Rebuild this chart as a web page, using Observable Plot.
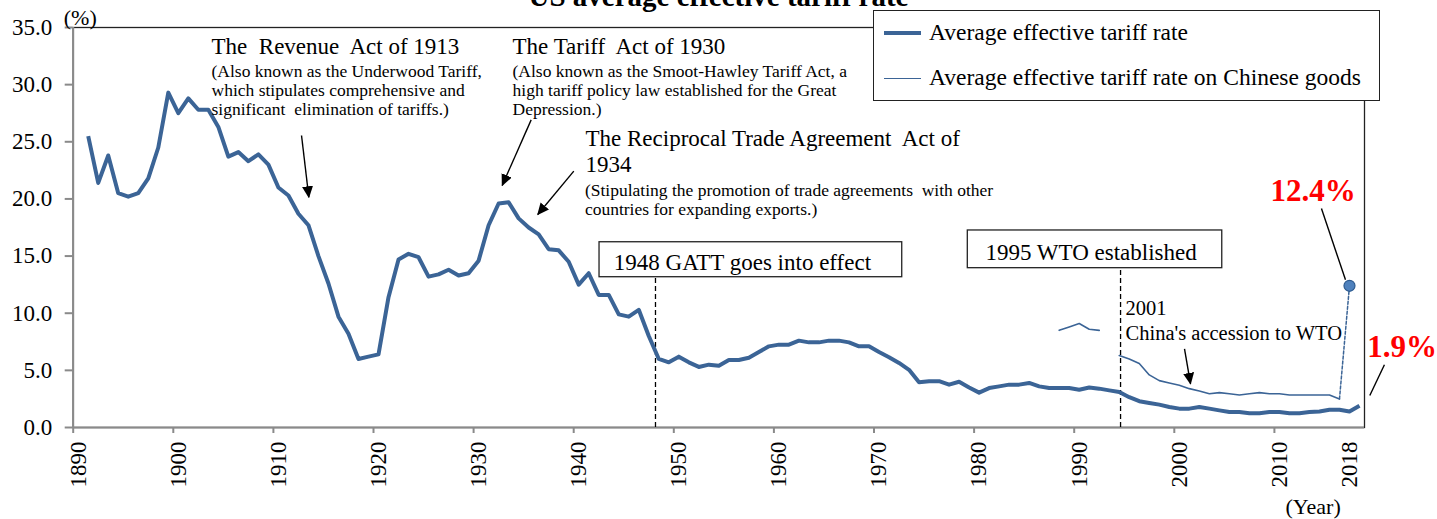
<!DOCTYPE html>
<html>
<head>
<meta charset="utf-8">
<script src="https://cdn.jsdelivr.net/npm/d3@7"></script>
<script src="https://cdn.jsdelivr.net/npm/@observablehq/plot@0.6"></script>
<style>
  html, body { margin: 0; padding: 0; background: #fff; overflow: hidden; }
  #wrap { position: relative; width: 1437px; height: 519px; font-family: "Liberation Serif", "Times New Roman", serif; color: #000; }
  #chart { position: absolute; left: 0; top: 0; }
  #title { position: absolute; left: 0; top: -18px; width: 1437px; text-align: center; font-weight: bold; font-size: 29px; line-height: 29px; }
  #legend { position: absolute; left: 873px; top: 10px; width: 505px; height: 89px; border: 1.5px solid #222; background: #fff; }
  #legend .sw { position: absolute; left: 10px; width: 37px; background: #3b6496; }
  #legend .lt { position: absolute; left: 55px; font-size: 23.5px; line-height: 23.5px; white-space: nowrap; }
</style>
</head>
<body>
<div id="wrap">
  <div id="chart"></div>
  <div id="title">US average effective tariff rate</div>
  <div id="legend"></div>
</div>
<script>
// ---------- data ----------
const mainStartYear = 1891;
const mainValues = [
  25.5, 21.4, 23.8, 20.5, 20.2, 20.5, 21.8, 24.5, 29.3, 27.5,   // 1891-1900
  28.8, 27.8, 27.8, 26.3, 23.7, 24.1, 23.3, 23.9, 23.0, 21.0,   // 1901-1910
  20.3, 18.7, 17.7, 15.0, 12.6, 9.7, 8.2, 6.0, 6.2, 6.4,        // 1911-1920
  11.4, 14.7, 15.2, 14.9, 13.2, 13.4, 13.8, 13.3, 13.5, 14.6,   // 1921-1930
  17.7, 19.6, 19.7, 18.3, 17.5, 16.9, 15.6, 15.5, 14.5, 12.5,   // 1931-1940
  13.5, 11.6, 11.6, 9.9, 9.7, 10.3, 8.0, 6.0, 5.7, 6.2,         // 1941-1950
  5.7, 5.3, 5.5, 5.4, 5.9, 5.9, 6.1, 6.6, 7.1, 7.25,            // 1951-1960
  7.25, 7.6, 7.45, 7.45, 7.6, 7.6, 7.45, 7.1, 7.1, 6.6,         // 1961-1970
  6.15, 5.65, 5.05, 3.95, 4.05, 4.05, 3.75, 4.0, 3.5, 3.05,     // 1971-1980
  3.45, 3.6, 3.75, 3.75, 3.9, 3.6, 3.45, 3.45, 3.45, 3.3,       // 1981-1990
  3.5, 3.4, 3.25, 3.1, 2.65, 2.3, 2.15, 2.0, 1.8, 1.65,         // 1991-2000
  1.65, 1.8, 1.65, 1.5, 1.35, 1.35, 1.25, 1.25, 1.35, 1.35,     // 2001-2010
  1.25, 1.25, 1.35, 1.4, 1.55, 1.55, 1.4, 1.9                   // 2011-2018
];
const chinaStartYear = 1988;
const chinaValues = [
  8.5, 8.8, 9.1, 8.6, 8.5, null,                                 // 1988-1993
  6.3, 6.0, 5.6, 4.6, 4.1, 3.9, 3.7, 3.4, 3.2, 2.95,            // 1994-2003
  3.05, 2.95, 2.85, 2.95, 3.05, 2.95, 2.95, 2.85, 2.85, 2.85,   // 2004-2013
  2.85, 2.85, 2.5, 12.4                                          // 2014-2017
];
const yTicks = [0, 5, 10, 15, 20, 25, 30, 35];
const xTickMarks = [1890, 1900, 1910, 1920, 1930, 1940, 1950, 1960, 1970, 1980, 1990, 2000, 2010];
const xTickLabels = ["1890", "1900", "1910", "1920", "1930", "1940", "1950", "1960", "1970", "1980", "1990", "2000", "2010", "2018"];
const xLabelCategories = [1890, 1900, 1910, 1920, 1930, 1940, 1950, 1960, 1970, 1980, 1990, 2000, 2010, 2017];
const seriesNames = ["Average effective tariff rate", "Average effective tariff rate on Chinese goods"];

// annotation anchors in data units (year, percent)
const headings = [
  {x: 1903.82, y: 32.72, t: "The  Revenue  Act of 1913"},
  {x: 1933.89, y: 32.72, t: "The Tariff  Act of 1930"},
  {x: 1941.18, y: 22.34, t: "The Reciprocal Trade Agreement  Act of\n1934"}
];
const subNotes = [
  {x: 1903.82, y: 27.34, t: "(Also known as the Underwood Tariff,\nwhich stipulates comprehensive and\nsignificant  elimination of tariffs.)"},
  {x: 1933.89, y: 27.34, t: "(Also known as the Smoot-Hawley Tariff Act, a\nhigh tariff policy law established for the Great\nDepression.)"},
  {x: 1941.12, y: 18.61, t: "(Stipulating the promotion of trade agreements  with other\ncountries for expanding exports.)"}
];
const eventBoxes = [
  {x1: 1942.58, x2: 1972.82, y1: 13.15, y2: 16.21, tx: 1944.01, ty: 13.74, t: "1948 GATT goes into effect", rule: 1948.17},
  {x1: 1979.37, x2: 2004.79, y1: 13.94, y2: 17.24, tx: 1981.14, ty: 14.67, t: "1995 WTO established", rule: 1994.63}
];
const arrowsData = [
  {x1: 1912.81, y1: 25.55, x2: 1913.54, y2: 20.15},
  {x1: 1935.75, y1: 26.92, x2: 1932.86, y2: 21.18},
  {x1: 1940.01, y1: 22.43, x2: 1936.41, y2: 18.64},
  {x1: 2001.02, y1: 6.89, x2: 2001.62, y2: 3.82}
];
const leaders = [
  {x1: 2014.70, y1: 19.16, x2: 2017.10, y2: 12.92},
  {x1: 2020.99, y1: 5.49, x2: 2019.53, y2: 2.80}
];
const chinaNote = {x: 1995.13, y: 7.70, t: "2001\nChina's accession to WTO"};
const bigLabels = [
  {x: 2009.62, y: 19.78, t: "12.4%"},
  {x: 2019.27, y: 6.21, t: "1.9%"}
];
const unitLabels = [
  {x: 1889.06, y: 35.26, t: "(%)"},
  {x: 2011.11, y: -7.55, t: "(Year)"}
];

// ---------- build tables ----------
const main = mainValues.map((v, i) => ({year: mainStartYear + i, v}));
const china = chinaValues.map((v, i) => ({year: chinaStartYear + i, v}));
const chinaSolid = china.slice(0, china.length - 1);
const chinaDash = china.slice(china.length - 2);
const chinaLast = china.slice(china.length - 1);
const xLabels = xLabelCategories.map((c, i) => ({c: c + 0.5, t: xTickLabels[i]}));
const cx = d => d.year + 0.5; // category centre

const blue = "#3b6496";
const grey = "#8a8a8a";

const chart = Plot.plot({
  width: 1437,
  height: 519,
  marginLeft: 72.7,
  marginRight: 73,
  marginTop: 27,
  marginBottom: 92,
  style: {fontFamily: '"Liberation Serif", "Times New Roman", serif', background: "transparent", overflow: "visible", color: "#000"},
  x: {domain: [1890, 2019], axis: null},
  y: {domain: [0, 35], axis: null},
  marks: [
    Plot.frame({stroke: "#222", strokeWidth: 1.3}),
    Plot.ruleX([1890], {stroke: grey, strokeWidth: 2}),
    Plot.ruleY([0], {stroke: grey, strokeWidth: 2}),
    Plot.axisY({ticks: yTicks, tickFormat: d => d.toFixed(1), tickSize: 8, tickPadding: 13, fontSize: 23, stroke: grey, strokeWidth: 2, fill: "#000", label: null}),
    Plot.axisX({ticks: xTickMarks, tickSize: 6, tickFormat: () => "", stroke: grey, strokeWidth: 2, fill: "none", label: null}),
    Plot.text(xLabels, {x: "c", text: "t", frameAnchor: "bottom", rotate: -90, textAnchor: "end", lineAnchor: "middle", dy: 14, fontSize: 23, fill: "#000"}),

    // event boxes and dashed rules
    Plot.ruleX(eventBoxes, {x: "rule", y1: 0, y2: "y1", stroke: "#000", strokeWidth: 1.3, strokeDasharray: "5,3"}),
    Plot.rect(eventBoxes, {x1: "x1", x2: "x2", y1: "y1", y2: "y2", fill: "#fff", stroke: "#222", strokeWidth: 1.3}),
    Plot.text(eventBoxes, {x: "tx", y: "ty", text: "t", textAnchor: "start", lineAnchor: "bottom", fontSize: 23, fill: "#000"}),

    // series
    Plot.line(main, {x: cx, y: "v", stroke: blue, strokeWidth: 4, strokeLinejoin: "round", strokeLinecap: "butt"}),
    Plot.line(chinaSolid, {x: cx, y: "v", stroke: blue, strokeWidth: 1.6}),
    Plot.line(chinaDash, {x: cx, y: "v", stroke: blue, strokeWidth: 1.5, strokeDasharray: "3,2"}),
    Plot.dot(chinaLast, {x: cx, y: "v", r: 5.5, fill: "#4f81bd", stroke: "#2d5a8f", strokeWidth: 1.2}),

    // arrows and leader lines
    Plot.link(arrowsData, {x1: "x1", y1: "y1", x2: "x2", y2: "y2", stroke: "#000", strokeWidth: 1.4}),
    Plot.link(leaders, {x1: "x1", y1: "y1", x2: "x2", y2: "y2", stroke: "#000", strokeWidth: 1.4}),

    // annotation texts
    Plot.text(headings, {x: "x", y: "y", text: "t", textAnchor: "start", lineAnchor: "bottom", lineHeight: 1.16, fontSize: 23, fill: "#000"}),
    Plot.text(subNotes, {x: "x", y: "y", text: "t", textAnchor: "start", lineAnchor: "bottom", lineHeight: 1.1, fontSize: 17.5, fill: "#000"}),
    Plot.text([chinaNote], {x: "x", y: "y", text: "t", textAnchor: "start", lineAnchor: "bottom", lineHeight: 1.18, fontSize: 20.5, fill: "#000"}),
    Plot.text(bigLabels, {x: "x", y: "y", text: "t", textAnchor: "start", lineAnchor: "bottom", fontSize: 31, fontWeight: "bold", fill: "#ff0000"}),
    Plot.text(unitLabels, {x: "x", y: "y", text: "t", textAnchor: "start", lineAnchor: "bottom", fontSize: 22, fill: "#000"})
  ]
});

// filled arrow heads on the first link mark
const sel = d3.select(chart);
const defs = sel.insert("defs", ":first-child");
defs.append("marker")
  .attr("id", "ah").attr("viewBox", "0 0 12 12").attr("refX", 11).attr("refY", 6)
  .attr("markerWidth", 12).attr("markerHeight", 12).attr("markerUnits", "userSpaceOnUse").attr("orient", "auto")
  .append("path").attr("d", "M0,0.5L12,6L0,11.5Z").attr("fill", "#000");
const linkGroups = chart.querySelectorAll('g[aria-label="link"]');
if (linkGroups.length) d3.select(linkGroups[0]).selectAll("path").attr("marker-end", "url(#ah)");

document.getElementById("chart").appendChild(chart);

// legend (HTML)
const legend = d3.select("#legend");
legend.append("div").attr("class", "sw").style("top", "19.5px").style("height", "4px");
legend.append("div").attr("class", "lt").style("top", "9.5px").text(seriesNames[0]);
legend.append("div").attr("class", "sw").style("top", "66.7px").style("height", "1.6px");
legend.append("div").attr("class", "lt").style("top", "55px").text(seriesNames[1]);
</script>
</body>
</html>
